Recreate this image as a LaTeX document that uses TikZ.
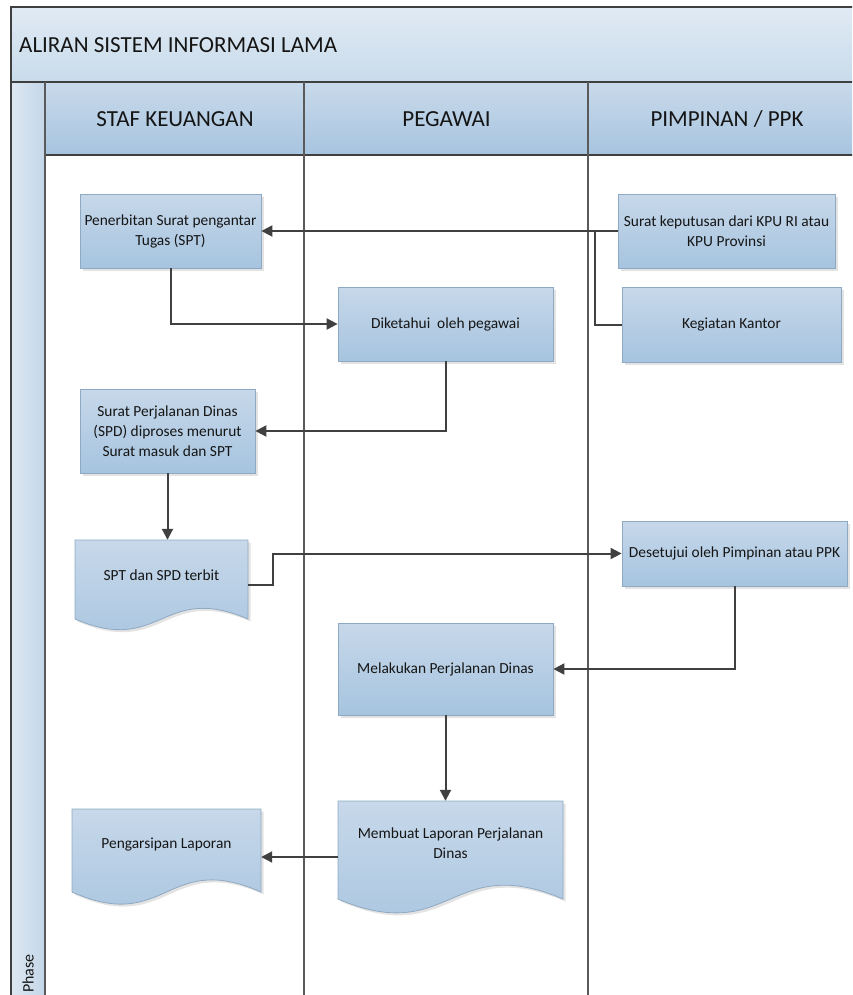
\documentclass[tikz,border=0pt]{standalone}
\usepackage{fontspec}
\setmainfont{Carlito}
\usetikzlibrary{arrows.meta,shadows}

\definecolor{titletop}{HTML}{E0EAF4}
\definecolor{titlebot}{HTML}{C9DBEB}
\definecolor{phaseL}{HTML}{DDE8F2}
\definecolor{phaseR}{HTML}{C4D6E8}
\definecolor{headtop}{HTML}{C9DAEB}
\definecolor{headbot}{HTML}{A7C4DF}
\definecolor{boxtop}{HTML}{C7D8EA}
\definecolor{boxbot}{HTML}{A6C4DF}
\definecolor{boxline}{HTML}{8FA9C2}
\definecolor{framec}{HTML}{3F3F3F}
\definecolor{lanec}{HTML}{5A5A5A}
\definecolor{connc}{HTML}{404040}
\definecolor{textc}{HTML}{151515}

% document outline: left, right, top, base line, wave control offset
\newcommand\docoutline[5]{%
  \path[docfill] (#1,#3) -- (#2,#3) -- (#2,#4)
    .. controls ({(#1+#2)/2},{#4-#5}) and ({(#1+#2)/2},{#4+#5}) .. (#1,#4) -- cycle;}

\begin{document}
\begin{tikzpicture}[x=1pt,y=-1pt,
  bigtext/.style={font=\fontsize{23}{27}\selectfont, text=textc, inner sep=0pt},
  boxshade/.style={draw=boxline, line width=0.8pt, top color=boxtop, bottom color=boxbot,
    drop shadow={opacity=0.22, shadow xshift=2.5pt, shadow yshift=-2.5pt}},
  procbox/.style={boxshade, align=center, text=textc, inner sep=0pt,
    font=\fontsize{15.4}{20}\selectfont},
  docfill/.style={boxshade},
  docanchor/.style={draw=none, inner sep=0pt},
  doctext/.style={align=center, text=textc, inner sep=0pt, font=\fontsize{15.4}{20}\selectfont},
  conn/.style={draw=connc, line width=2pt},
  arr/.style={conn, -{Triangle[length=11pt,width=11pt]}},
  lane/.style={draw=lanec, line width=1.2pt},
  frame/.style={draw=framec, line width=1.4pt}]
\useasboundingbox (0,0) rectangle (852,995);
\clip (0,0) rectangle (852,995);

% pool title band, phase column and lane headers
\shade[top color=titletop, bottom color=titlebot] (11,7) rectangle (880,82);
\shade[left color=phaseL, right color=phaseR] (11,82) rectangle (45,1000);
\shade[top color=headtop, bottom color=headbot] (45,82) rectangle (880,155);

\draw[frame] (11,1000) -- (11,7) -- (880,7);
\draw[frame] (11,82) -- (880,82);
\draw[frame] (45,155) -- (880,155);
\draw[lane] (45,82) -- (45,1000);
\draw[lane] (304,82) -- (304,1000);
\draw[lane] (588,82) -- (588,1000);

\node[bigtext, anchor=west] (title) at (19,45) {ALIRAN SISTEM INFORMASI LAMA};
\node[bigtext] (h1) at (175,119) {STAF KEUANGAN};
\node[bigtext] (h2) at (446.5,119) {PEGAWAI};
\node[bigtext] (h3) at (727,119) {PIMPINAN / PPK};
\node[font=\fontsize{16}{19}\selectfont, text=textc, inner sep=0pt, rotate=90, anchor=base west]
  (phase) at (33.5,993) {Phase};

% process boxes
\node[procbox, minimum width=181pt, minimum height=74pt] (pen) at (170.5,231)
  {Penerbitan Surat pengantar\\Tugas (SPT)};
\node[procbox, minimum width=217pt, minimum height=74pt] (sk) at (726.5,231)
  {Surat keputusan dari KPU RI atau\\KPU Provinsi};
\node[procbox, minimum width=219pt, minimum height=75pt] (kk) at (731.5,324.5)
  {Kegiatan Kantor};
\node[procbox, minimum width=215pt, minimum height=74pt] (dik) at (445.5,324)
  {Diketahui\ \ oleh pegawai};
\node[procbox, minimum width=175pt, minimum height=84pt] (spd) at (167.5,431)
  {Surat Perjalanan Dinas\\(SPD) diproses menurut\\Surat masuk dan SPT};
\node[procbox, minimum width=225pt, minimum height=65pt] (des) at (734.5,553.5)
  {Desetujui oleh Pimpinan atau PPK};
\node[procbox, minimum width=215pt, minimum height=92pt] (mel) at (445.5,669)
  {Melakukan Perjalanan Dinas};

% document shapes
\docoutline{75}{248}{540}{619}{37}
\node[docanchor, minimum width=173pt, minimum height=89pt] (spt) at (161.5,584.5) {};
\node[doctext] (spt-t) at (161.5,575) {SPT dan SPD terbit};

\docoutline{338}{563}{801}{899}{48}
\node[docanchor, minimum width=225pt, minimum height=112pt] (mem) at (450.5,857) {};
\node[doctext] (mem-t) at (450.5,843) {Membuat Laporan Perjalanan\\Dinas};

\docoutline{72}{261}{809}{892}{42}
\node[docanchor, minimum width=189pt, minimum height=96pt] (ars) at (166.5,857) {};
\node[doctext] (ars-t) at (166.5,845) {Pengarsipan Laporan};

% connectors
\coordinate (join) at (595,231);
\draw[arr] (sk.west) -- (pen.east);
\draw[conn] (kk.west) -| (join);
\draw[arr] (pen.south) |- (dik.west);
\draw[arr] (dik.south) |- (spd.east);
\draw[arr] (spd.south) -- (spd.south |- spt.north);
\coordinate (bend) at (273,584.5);
\draw[arr] (spt.east) -- (bend) |- (des.west);
\draw[arr] (des.south) |- (mel.east);
\draw[arr] (mel.south) -- (mel.south |- mem.north);
\draw[arr] (mem.west) -- (ars.east);
\end{tikzpicture}
\end{document}
